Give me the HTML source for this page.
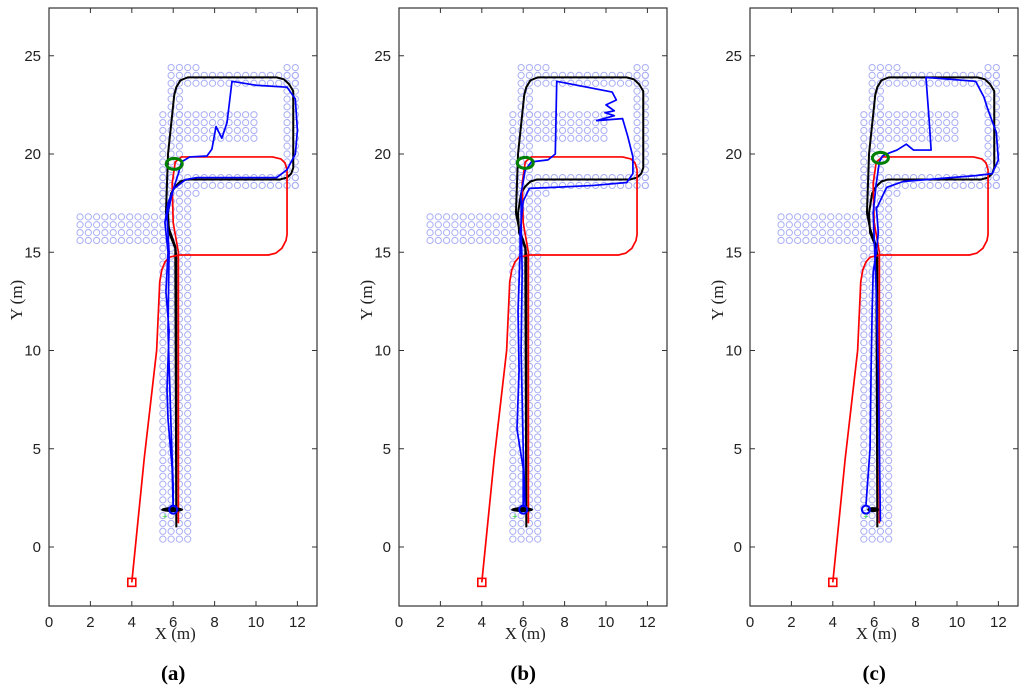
<!DOCTYPE html>
<html><head><meta charset="utf-8"><style>
body{margin:0;background:#fff}
svg{display:block}
.tick{font-family:"Liberation Sans",sans-serif;font-size:15px;fill:#222}
.lab{font-family:"Liberation Serif",serif;font-size:17px;fill:#222}
.cap{font-family:"Liberation Serif",serif;font-size:21px;font-weight:bold;fill:#000}
</style></head><body>
<svg id="chart" width="1024" height="697" viewBox="0 0 1024 697"></svg>
<script>
const xTicks=[0,2,4,6,8,10,12];
const yTicks=[0,5,10,15,20,25];
const panelLabels=["(a)","(b)","(c)"];
const panelOffsets=[0,350,701];
// landmark blocks [x0,x1,y0,y1] in metres, grid step 0.4
const landmarkBlocks=[[5.5,6.7,0.4,17.6],[1.5,5.1,15.6,16.8],[5.5,6.3,18.0,22.0],[5.9,6.3,22.4,23.2],[5.5,7.1,18.0,18.0],[5.5,11.9,18.4,18.8],[6.3,9.9,20.8,22.0],[5.9,11.9,23.6,24.0],[5.9,7.1,24.4,24.4],[11.5,11.9,18.4,24.4]];
const blackX=[6.15,6.15,6.1,5.8,5.65,5.75,5.95,6.05,6.15,6.35,6.7,11.0,11.35,11.6,11.8,11.8,11.7,11.5,11.15,6.65,6.35,6.1,5.9,5.75,5.8,6.1,6.15];
const blackY=[1.0,14.8,15.3,16.2,17.0,20.0,22.0,23.0,23.4,23.75,23.9,23.9,23.8,23.55,23.2,19.3,19.0,18.8,18.7,18.7,18.6,18.35,18.0,17.0,16.0,15.2,1.0];
const redX=[4,4.6,5.2,5.35,5.45,5.6,5.8,6.3,10.6,10.95,11.25,11.45,11.5,11.5,11.4,11.2,10.8,6.4,6.1,5.95,6.0,6.25,6.25];
const redY=[-1.8,4.5,10,13.5,14.1,14.5,14.75,14.86,14.86,14.95,15.2,15.6,15.9,19.2,19.55,19.75,19.85,19.85,19.6,18.5,16.5,15.0,1.2];
const blueA_X=[6.0,5.95,5.75,5.7,5.8,5.65,5.75,5.6,5.75,6.0,6.6,7.15,11.0,11.5,11.9,12.0,11.9,11.5,10.0,8.84,8.6,8.35,8.07,7.87,7.63,6.8,6.4,6.25,6.0,5.7,5.8,5.75,5.9,6.0,6.0];
const blueA_Y=[1.9,4.0,6.5,8.0,11.0,13.0,15.0,16.5,17.5,18.2,18.7,18.8,18.8,19.2,20.0,21.2,22.8,23.4,23.5,23.7,21.6,20.8,21.4,20.25,19.9,19.85,19.6,19.0,18.2,16.85,15.0,11.0,6.0,3.0,1.9];
const blueB_X=[6.0,6.0,5.7,5.8,5.75,5.85,5.85,6.0,6.3,7.45,9.4,11.0,11.3,11.3,11.05,10.8,9.55,10.4,9.95,10.4,10.0,10.5,10.3,7.62,7.55,7.2,6.4,6.1,5.9,5.9,5.95,5.9,6.0,6.1];
const blueB_Y=[1.9,4.0,6.0,9.0,12.0,15.0,16.0,17.6,18.25,18.3,18.4,18.55,19.0,19.85,20.9,21.8,21.7,21.95,22.1,22.2,22.5,22.75,23.15,23.7,20.0,19.7,19.6,19.2,18.0,16.5,14.0,10.0,5.0,1.9];
const blueC_X=[5.6,5.8,5.85,5.9,5.95,6.1,6.2,6.1,6.15,6.6,7.4,10.9,11.7,12.0,11.9,11.55,11.45,11.3,10.9,8.5,8.65,8.75,7.9,7.55,7.1,6.6,6.4,6.25,6.1,5.95,6.1,6.2,6.25,6.3];
const blueC_Y=[2.1,5.0,9.0,12.0,14.0,15.0,16.0,17.3,17.3,18.3,18.6,18.9,19.0,19.7,21.1,22.1,22.4,22.9,23.7,23.9,21.8,20.2,20.2,20.5,20.2,20.0,19.9,19.6,18.5,17.0,13.0,9.0,5.0,1.3];
const blueXs=[blueA_X,blueB_X,blueC_X];
const blueYs=[blueA_Y,blueB_Y,blueC_Y];
const ellipseCX=[6.05,6.1,6.3];
const ellipseCY=[19.5,19.55,19.8];

const NS="http://www.w3.org/2000/svg";
const svg=document.getElementById('chart');
function mk(tag,attrs,parent){const e=document.createElementNS(NS,tag);for(const k in attrs)e.setAttribute(k,attrs[k]);parent.appendChild(e);return e;}
const L=49,R=317,T=8,B=606,PXX=20.7,Y0=547,PXY=19.65;

panelOffsets.forEach((off,pi)=>{
  const sx=v=>L+off+v*PXX, sy=v=>Y0-v*PXY;
  const g=mk('g',{},svg);
  
  
  const lg=mk('g',{fill:'none',stroke:'#a9aef5','stroke-width':'1'},g);
  
  
  landmarkBlocks.forEach(b=>{
    for(let x=b[0];x<=b[1]+0.01;x+=0.4)for(let y=b[2];y<=b[3]+0.01;y+=0.4){
      mk('circle',{cx:sx(x),cy:sy(y),r:3.1},lg);
    }
  });
  const line=(xs,ys,col,w,name)=>{
    const p=mk('polyline',{points:xs.map((x,i)=>sx(x)+','+sy(ys[i])).join(' '),fill:'none',stroke:col,'stroke-width':w,'stroke-linejoin':'round'},g);
    
    
  };
  line(blackX,blackY,'#000',2,'ground-truth-path');
  line(redX,redY,'#ff0000',1.7,'odometry-path');
  line(blueXs[pi],blueYs[pi],'#0000ff',1.7,'estimated-path');
  const sq=mk('rect',{x:sx(4)-4,y:sy(-1.8)-4,width:8,height:8,fill:'none',stroke:'#f00','stroke-width':1.6},g);
  
  
  const sm=mk('ellipse',{cx:sx(5.95),cy:sy(1.9),rx:pi==2?6:11,ry:2.5,fill:'#000'},g);
  
  
  mk('circle',{cx:sx(pi==2?5.6:6.0),cy:sy(1.9),r:4,fill:'none',stroke:'#00f','stroke-width':2},g);
  mk('text',{x:sx(5.6),y:sy(1.6)+4,fill:'#33dd33','font-size':'9','font-family':'Liberation Sans, sans-serif','text-anchor':'middle'},g).textContent='+';
  const el=mk('ellipse',{cx:sx(ellipseCX[pi]),cy:sy(ellipseCY[pi]),rx:8,ry:5.5,fill:'none',stroke:'#008000','stroke-width':3},g);
  
  
  const box=mk('rect',{x:L+off,y:T,width:R-L,height:B-T,fill:'none',stroke:'#333','stroke-width':1.2},g);
  
  
  xTicks.forEach(t=>{
    mk('line',{x1:sx(t),x2:sx(t),y1:B,y2:B-5,stroke:'#333'},g);
    mk('line',{x1:sx(t),x2:sx(t),y1:T,y2:T+5,stroke:'#333'},g);
    const tx=mk('text',{x:sx(t),y:B+21,'text-anchor':'middle',class:'tick'},g);
    tx.textContent=t;
    
    
  });
  yTicks.forEach(t=>{
    mk('line',{x1:L+off,x2:L+off+5,y1:sy(t),y2:sy(t),stroke:'#333'},g);
    mk('line',{x1:R+off,x2:R+off-5,y1:sy(t),y2:sy(t),stroke:'#333'},g);
    const ty=mk('text',{x:L+off-8,y:sy(t)+5,'text-anchor':'end',class:'tick'},g);
    ty.textContent=t;
    
    
  });
  const xl=mk('text',{x:sx(6.1),y:639,'text-anchor':'middle',class:'lab'},g);
  xl.textContent='X (m)';
  
  
  const yl=mk('text',{x:0,y:0,'text-anchor':'middle',class:'lab',transform:'translate('+(22+off)+',300) rotate(-90)'},g);
  yl.textContent='Y (m)';
  
  
  const cp=mk('text',{x:sx(6),y:680,'text-anchor':'middle',class:'cap'},g);
  cp.textContent=panelLabels[pi];
  
  
});
</script>
</body></html>
